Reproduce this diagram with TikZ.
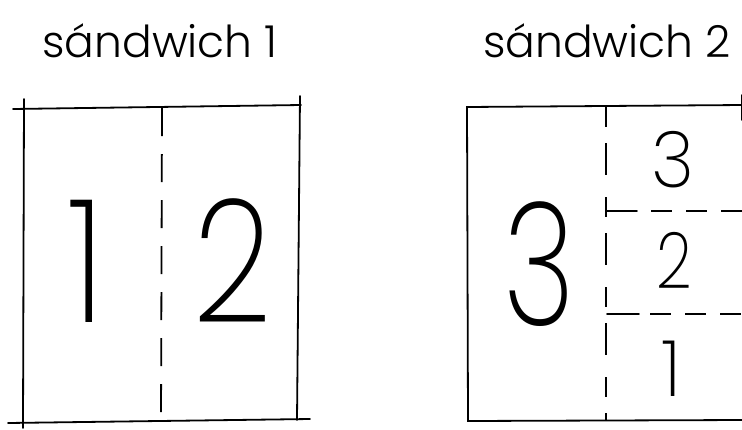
\documentclass[tikz,border=0pt]{standalone}
\usepackage{fontspec}
\setmainfont{Poppins}
\newfontfamily\titlefont{Poppins Light}
\newfontfamily\digitfont{Poppins ExtraLight}
\newcommand{\narrow}[2]{\scalebox{#1}[1]{#2}}
\begin{document}
\begin{tikzpicture}[x=1pt,y=-1pt,
  edge/.style={line width=1.8pt,line cap=round},
  cut/.style={line width=1.8pt,dash pattern=on 28pt off 18pt},
  hcut/.style={line width=1.8pt,dash pattern=on 21pt off 14pt},
  title/.style={font=\titlefont\fontsize{44}{44}\selectfont,anchor=base,inner sep=0pt},
  big/.style={font=\digitfont\fontsize{172}{172}\selectfont,anchor=base,inner sep=0pt},
  small/.style={font=\digitfont\fontsize{78}{78}\selectfont,anchor=base,inner sep=0pt}]
\useasboundingbox (0,0) rectangle (742,429);
% titles
\node[title] (t1) at (160,57) {sándwich 1};
\node[title] (t2) at (607,57) {sándwich 2};
% sandwich 1
\coordinate (a1) at (13,109); \coordinate (a2) at (301,105);
\coordinate (b1) at (8,423);  \coordinate (b2) at (310,419);
\coordinate (l1) at (24,99);  \coordinate (l2) at (23,428);
\coordinate (r1) at (300,96); \coordinate (r2) at (297,420);
\coordinate (m1) at (162,108); \coordinate (m2) at (161,421);
\draw[edge] (a1) -- (a2);
\draw[edge] (b1) -- (b2);
\draw[edge] (l1) -- (l2);
\draw[edge] (r1) -- (r2);
\draw[cut] (m1) -- (m2);
\node[big] (d1) at (86,322) {\narrow{0.85}{1}};
\node[big] (d2) at (233,322) {\narrow{0.8}{2}};
% sandwich 2
\coordinate (p1) at (467,107); \coordinate (p2) at (743,105);
\coordinate (q1) at (468,421); \coordinate (q2) at (743,420);
\coordinate (s1) at (742,95);  \coordinate (s2) at (742,120);
\coordinate (n1) at (606,107); \coordinate (n2) at (606,421);
\draw[edge] (p2) -- (p1) -- (q1) -- (q2);
\draw[edge] (s1) -- (s2);
\draw[cut,dash pattern=on 20pt off 16pt on 32pt off 22pt] (n1) -- (n2);
\coordinate (u0) at (607,211); \coordinate (u1) at (637,211); \coordinate (u2) at (651,211); \coordinate (u3) at (743,211);
\coordinate (v0) at (607,314); \coordinate (v1) at (639,314); \coordinate (v2) at (650,314); \coordinate (v3) at (743,314);
\draw[edge] (u0) -- (u1);
\draw[hcut] (u2) -- (u3);
\draw[edge] (v0) -- (v1);
\draw[hcut] (v2) -- (v3);
\node[big] (d3) at (539,325) {\narrow{0.72}{3}};
\node[small] (e3) at (673,187) {\narrow{0.95}{3}};
\node[small] (e2) at (674,288) {\narrow{0.8}{2}};
\node[small] (e1) at (672,396) {1};
\end{tikzpicture}
\end{document}
